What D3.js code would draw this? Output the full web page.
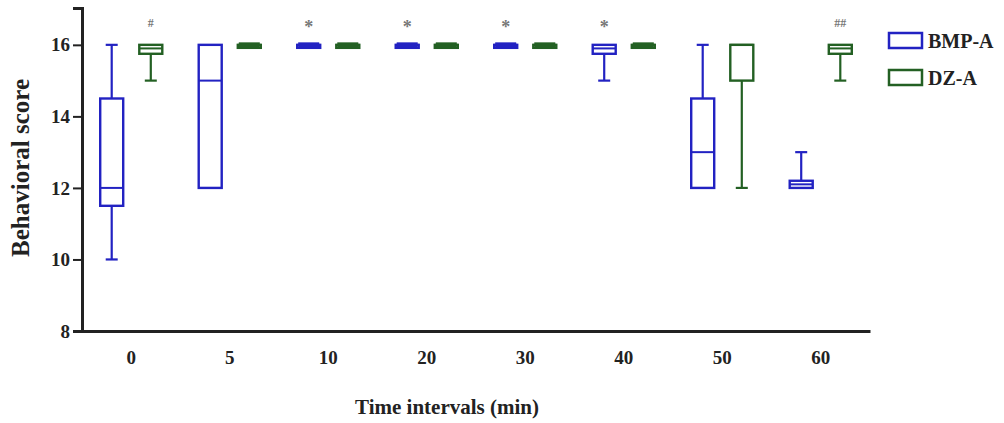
<!DOCTYPE html>
<html>
<head>
<meta charset="utf-8">
<script src="https://cdnjs.cloudflare.com/ajax/libs/d3/7.8.5/d3.min.js"></script>
<style>
  body { margin: 0; background: #fff; }
  text { font-family: "Liberation Serif", "DejaVu Serif", serif; font-weight: bold; }
</style>
</head>
<body>
<svg width="1004" height="423"></svg>
<script>
// time points (min)
var categories = ["0", "5", "10", "20", "30", "40", "50", "60"];
var seriesNames = ["BMP-A", "DZ-A"];

// [min, q1, median, q3, max] per time point
var bmpA = [
  [10, 11.5, 12, 14.5, 16],
  [12, 12, 15, 16, 16],
  [16, 16, 16, 16, 16],
  [16, 16, 16, 16, 16],
  [16, 16, 16, 16, 16],
  [15, 15.75, 15.9, 16, 16],
  [12, 12, 13, 14.5, 16],
  [12, 12, 12.1, 12.2, 13]
];
var dzA = [
  [15, 15.75, 15.9, 16, 16],
  [16, 16, 16, 16, 16],
  [16, 16, 16, 16, 16],
  [16, 16, 16, 16, 16],
  [16, 16, 16, 16, 16],
  [16, 16, 16, 16, 16],
  [12, 15, 16, 16, 16],
  [15, 15.75, 15.9, 16, 16]
];
var yTicks = [8, 10, 12, 14, 16];
// significance marks: [category, series, label]
var marks = [
  ["0", "DZ-A", "#"],
  ["10", "BMP-A", "*"],
  ["20", "BMP-A", "*"],
  ["30", "BMP-A", "*"],
  ["40", "BMP-A", "*"],
  ["60", "DZ-A", "##"]
];

var colors = { "BMP-A": "#2222c2", "DZ-A": "#236023" };

var svg = d3.select("svg");
var plotLeft = 82, plotRight = 870, plotTop = 8, plotBottom = 331;

var x = d3.scaleBand().domain(categories).range([plotLeft, plotRight]).padding(0);
var xs = d3.scaleBand().domain(seriesNames).range([0, x.bandwidth()]).paddingInner(0.38).paddingOuter(0.45);
var y = d3.scaleLinear().domain([8, 17.03]).range([plotBottom, plotTop]);

var boxW = 23;

var allData = [];
categories.forEach(function(c, i) {
  allData.push({ cat: c, s: "BMP-A", v: bmpA[i] });
  allData.push({ cat: c, s: "DZ-A", v: dzA[i] });
});

var cx = function(d) { return x(d.cat) + xs(d.s) + xs.bandwidth() / 2; };

var g = svg.append("g");
var boxes = g.selectAll("g.box")
  .data(allData)
  .enter()
  .append("g")
  .attr("class", "box")
  .attr("stroke", function(d) { return colors[d.s]; })
  .attr("fill", "none");

// whisker line
boxes.append("line")
  .attr("x1", cx).attr("x2", cx)
  .attr("y1", function(d) { return y(d.v[0]); })
  .attr("y2", function(d) { return y(d.v[4]); })
  .attr("stroke-width", 2.2);

// whisker caps (only where whisker extends beyond box)
boxes.filter(function(d) { return d.v[0] < d.v[1]; })
  .append("line")
  .attr("x1", function(d) { return cx(d) - 6; })
  .attr("x2", function(d) { return cx(d) + 6; })
  .attr("y1", function(d) { return y(d.v[0]); })
  .attr("y2", function(d) { return y(d.v[0]); })
  .attr("stroke-width", 2.2);
boxes.filter(function(d) { return d.v[4] > d.v[3]; })
  .append("line")
  .attr("x1", function(d) { return cx(d) - 6; })
  .attr("x2", function(d) { return cx(d) + 6; })
  .attr("y1", function(d) { return y(d.v[4]); })
  .attr("y2", function(d) { return y(d.v[4]); })
  .attr("stroke-width", 2.2);

// box
boxes.append("rect")
  .attr("x", function(d) { return cx(d) - boxW / 2; })
  .attr("y", function(d) { return y(d.v[3]); })
  .attr("width", boxW)
  .attr("height", function(d) { return Math.max(y(d.v[1]) - y(d.v[3]), 3); })
  .attr("fill", "#fff")
  .attr("stroke-width", 2.4);

// median
boxes.append("line")
  .attr("x1", function(d) { return cx(d) - boxW / 2; })
  .attr("x2", function(d) { return cx(d) + boxW / 2; })
  .attr("y1", function(d) { return y(d.v[2]); })
  .attr("y2", function(d) { return y(d.v[2]); })
  .attr("stroke-width", 2);

// flat boxes (all 16) drawn as thick bars
boxes.filter(function(d) { return d.v[0] === d.v[4]; })
  .append("line")
  .attr("x1", function(d) { return cx(d) - boxW / 2 + 1; })
  .attr("x2", function(d) { return cx(d) + boxW / 2 - 1; })
  .attr("y1", function(d) { return y(d.v[2]); })
  .attr("y2", function(d) { return y(d.v[2]); })
  .attr("stroke-width", 5);

// significance marks
svg.selectAll("text.mark")
  .data(marks)
  .enter()
  .append("text")
  .attr("class", "mark")
  .attr("x", function(d) { return x(d[0]) + xs(d[1]) + xs.bandwidth() / 2; })
  .attr("y", function(d) { return d[2] === "*" ? 33 : 27; })
  .attr("text-anchor", "middle")
  .attr("fill", "#777")
  .style("font-size", function(d) { return d[2] === "*" ? "18px" : "12px"; })
  .text(function(d) { return d[2]; });

// y axis
var yAxis = svg.append("g")
  .attr("transform", "translate(" + plotLeft + ",0)")
  .call(d3.axisLeft(y).tickValues(yTicks).tickSize(9).tickPadding(3).tickFormat(d3.format("d")));
yAxis.select(".domain").attr("stroke", "#222").attr("stroke-width", 3);
yAxis.selectAll(".tick line").attr("stroke", "#222").attr("stroke-width", 2);
yAxis.selectAll(".tick text").attr("fill", "#222").style("font-size", "19px");

// x axis
var xAxis = svg.append("g")
  .attr("transform", "translate(0," + plotBottom + ")")
  .call(d3.axisBottom(x).tickSize(0).tickPadding(20));
xAxis.select(".domain").attr("stroke", "#222").attr("stroke-width", 3);
xAxis.selectAll(".tick text").attr("fill", "#222").style("font-size", "19px");

// axis titles
svg.append("text")
  .attr("x", 447)
  .attr("y", 414)
  .attr("text-anchor", "middle")
  .attr("fill", "#222")
  .style("font-size", "21px")
  .text("Time intervals (min)");

svg.append("text")
  .attr("transform", "translate(29,168) rotate(-90)")
  .attr("text-anchor", "middle")
  .attr("fill", "#222")
  .style("font-size", "25px")
  .text("Behavioral score");

// legend
var legend = svg.append("g").attr("transform", "translate(889,33)");
var li = legend.selectAll("g")
  .data(seriesNames)
  .enter()
  .append("g")
  .attr("transform", function(d, i) { return "translate(0," + i * 37 + ")"; });
li.append("rect")
  .attr("width", 33)
  .attr("height", 15)
  .attr("fill", "none")
  .attr("stroke", function(d) { return colors[d]; })
  .attr("stroke-width", 2.5);
li.append("text")
  .attr("x", 39)
  .attr("y", 15)
  .attr("fill", "#222")
  .style("font-size", "20px")
  .text(function(d) { return d; });
</script>
</body>
</html>
